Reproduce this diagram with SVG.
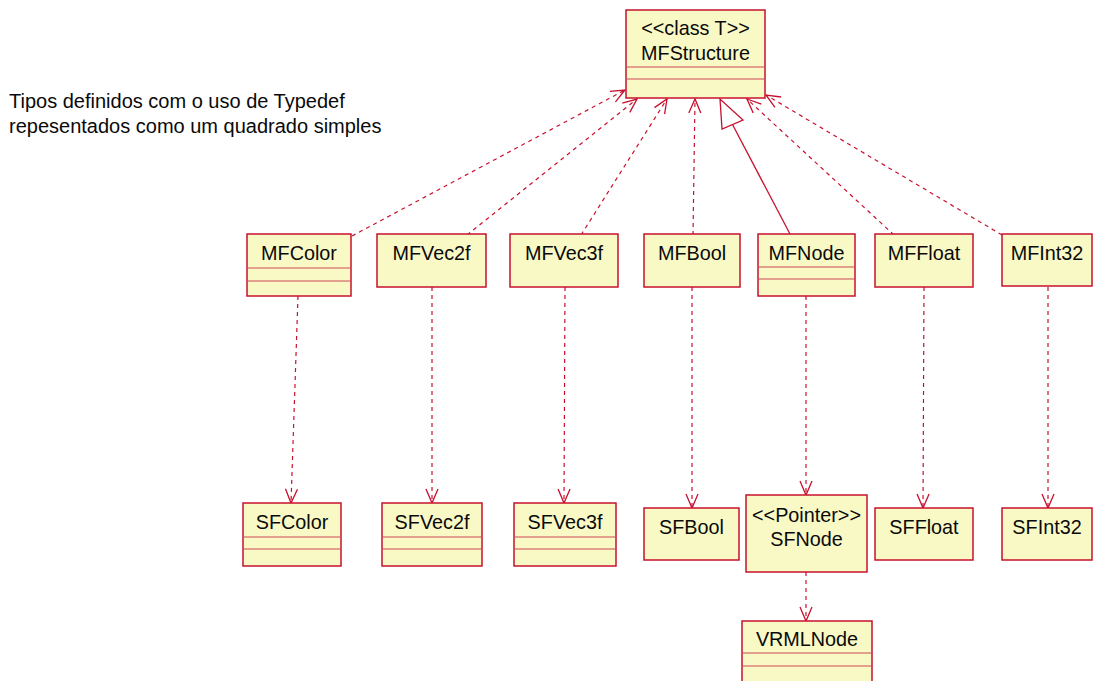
<svg xmlns="http://www.w3.org/2000/svg" width="1093" height="681" viewBox="0 0 1093 681">
<style>
.box{fill:#f9f9c6;stroke:#c8102e;stroke-width:1.5}
.cmp{stroke:#d04858;stroke-width:1.2;fill:none}
.t{font-family:"Liberation Sans",Arial,sans-serif;font-size:19.8px;fill:#0a0a0a;text-anchor:middle}
.note{font-family:"Liberation Sans",Arial,sans-serif;font-size:20px;fill:#0a0a0a}
.dep{stroke:#c8102e;stroke-width:1.2;stroke-dasharray:4 4;fill:none;marker-end:url(#open)}
.gen{stroke:#c8102e;stroke-width:1.3;fill:none}
</style>
<defs>
<marker id="open" viewBox="-16 -9 18 18" refX="0" refY="0" markerWidth="18" markerHeight="18" markerUnits="userSpaceOnUse" orient="auto">
<path d="M-14,-6 L0,0 L-14,6" fill="none" stroke="#c8102e" stroke-width="1.3"/>
</marker>
</defs>
<rect width="1093" height="681" fill="#fff"/>
<text class="note" x="9" y="108">Tipos definidos com o uso de Typedef</text>
<text class="note" x="9" y="133">repesentados como um quadrado simples</text>

<g id="connectors">
<path class="dep" d="M352,236 L625,90"/>
<path class="dep" d="M467,235 L637,99"/>
<path class="dep" d="M581,235 L667,99"/>
<path class="dep" d="M693,235 L695,99"/>
<path class="dep" d="M894,235 L747,99"/>
<path class="dep" d="M1002,235 L766,95"/>
<path class="gen" d="M790,234 L732.5,124.5"/>
<polygon points="720,99 722,129 743,120" fill="#fff" stroke="#c8102e" stroke-width="1.3"/>
<path class="dep" d="M298,296 L291,503"/>
<path class="dep" d="M432,287 L432,503"/>
<path class="dep" d="M565,287 L564,503"/>
<path class="dep" d="M692,287 L692,508"/>
<path class="dep" d="M806,296 L806,495"/>
<path class="dep" d="M924,287 L923,508"/>
<path class="dep" d="M1048,287 L1048,508"/>
<path class="dep" d="M806,572 L806,621"/>
</g>

<g id="MFStructure">
<rect class="box" x="626" y="10" width="139" height="88"/>
<line class="cmp" x1="626" y1="67" x2="765" y2="67"/>
<line class="cmp" x1="626" y1="79" x2="765" y2="79"/>
<text class="t" x="695.5" y="35">&lt;&lt;class T&gt;&gt;</text>
<text class="t" x="695.5" y="60">MFStructure</text>
</g>

<g id="MFColor">
<rect class="box" x="247" y="234" width="104" height="62"/>
<line class="cmp" x1="247" y1="268" x2="351" y2="268"/>
<line class="cmp" x1="247" y1="281" x2="351" y2="281"/>
<text class="t" x="299" y="260">MFColor</text>
</g>
<g id="MFVec2f">
<rect class="box" x="377" y="234" width="109" height="53"/>
<text class="t" x="431.5" y="260">MFVec2f</text>
</g>
<g id="MFVec3f">
<rect class="box" x="510" y="234" width="108" height="53"/>
<text class="t" x="564" y="260">MFVec3f</text>
</g>
<g id="MFBool">
<rect class="box" x="644" y="234" width="96" height="53"/>
<text class="t" x="692" y="260">MFBool</text>
</g>
<g id="MFNode">
<rect class="box" x="758" y="234" width="97" height="62"/>
<line class="cmp" x1="758" y1="267" x2="855" y2="267"/>
<line class="cmp" x1="758" y1="279" x2="855" y2="279"/>
<text class="t" x="806.5" y="260">MFNode</text>
</g>
<g id="MFFloat">
<rect class="box" x="875" y="234" width="98" height="53"/>
<text class="t" x="924" y="260">MFFloat</text>
</g>
<g id="MFInt32">
<rect class="box" x="1002" y="234" width="90" height="52"/>
<text class="t" x="1047" y="260">MFInt32</text>
</g>

<g id="SFColor">
<rect class="box" x="243" y="503" width="98" height="63"/>
<line class="cmp" x1="243" y1="537" x2="341" y2="537"/>
<line class="cmp" x1="243" y1="549" x2="341" y2="549"/>
<text class="t" x="292" y="529">SFColor</text>
</g>
<g id="SFVec2f">
<rect class="box" x="382" y="503" width="100" height="63"/>
<line class="cmp" x1="382" y1="537" x2="482" y2="537"/>
<line class="cmp" x1="382" y1="549" x2="482" y2="549"/>
<text class="t" x="432" y="529">SFVec2f</text>
</g>
<g id="SFVec3f">
<rect class="box" x="514" y="503" width="102" height="63"/>
<line class="cmp" x1="514" y1="537" x2="616" y2="537"/>
<line class="cmp" x1="514" y1="549" x2="616" y2="549"/>
<text class="t" x="565" y="529">SFVec3f</text>
</g>
<g id="SFBool">
<rect class="box" x="644" y="508" width="95" height="52"/>
<text class="t" x="691.5" y="534">SFBool</text>
</g>
<g id="SFNode">
<rect class="box" x="746" y="495" width="121" height="77"/>
<text class="t" x="806.5" y="522">&lt;&lt;Pointer&gt;&gt;</text>
<text class="t" x="806.5" y="546">SFNode</text>
</g>
<g id="SFFloat">
<rect class="box" x="875" y="508" width="98" height="52"/>
<text class="t" x="924" y="534">SFFloat</text>
</g>
<g id="SFInt32">
<rect class="box" x="1002" y="508" width="90" height="52"/>
<text class="t" x="1047" y="534">SFInt32</text>
</g>
<g id="VRMLNode">
<rect class="box" x="742" y="621" width="130" height="70"/>
<line class="cmp" x1="742" y1="653" x2="872" y2="653"/>
<line class="cmp" x1="742" y1="666" x2="872" y2="666"/>
<text class="t" x="807" y="646">VRMLNode</text>
</g>
</svg>
